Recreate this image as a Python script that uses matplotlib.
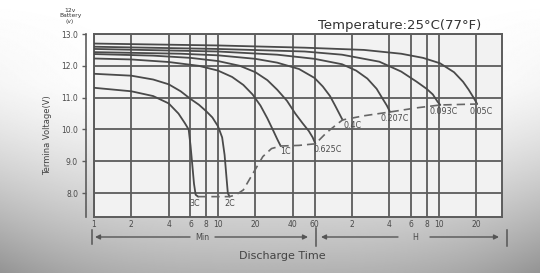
import numpy as np
import matplotlib
matplotlib.use('Agg')
import matplotlib.pyplot as plt
from matplotlib.ticker import NullLocator, FixedLocator, FixedFormatter

# ---------------- data ----------------
tick_minutes = [1, 2, 4, 6, 8, 10, 20, 40, 60, 120, 240, 360, 480, 600, 1200]
tick_labels = ['1', '2', '4', '6', '8', '10', '20', '40', '60', '2', '4', '6', '8', '10', '20']
y_ticks = [8.0, 9.0, 10.0, 11.0, 12.0, 13.0]

rate_labels = ['3C', '2C', '1C', '0.625C', '0.4C', '0.207C', '0.093C', '0.05C']

t_3c = [1, 2, 3, 4, 4.8, 5.4, 5.8, 6.0, 6.2, 6.4, 6.6, 6.9]
v_3c = [11.31, 11.2, 11.05, 10.82, 10.5, 10.2, 10.0, 9.5, 8.9, 8.3, 7.95, 7.89]

t_2c = [1, 2, 3, 4, 5, 6, 7, 8, 9, 10, 10.8, 11.3, 11.7, 12.0, 12.4]
v_2c = [11.75, 11.69, 11.57, 11.42, 11.2, 10.96, 10.78, 10.58, 10.38, 10.1, 9.75, 9.2, 8.5, 8.0, 7.89]

t_1c = [1, 2, 4, 7, 10, 13, 16, 19, 22, 25, 28, 30, 32]
v_1c = [12.23, 12.2, 12.12, 12.0, 11.85, 11.65, 11.4, 11.1, 10.75, 10.35, 9.95, 9.7, 9.48]

t_0625c = [1, 3, 6, 10, 15, 20, 25, 30, 36, 42, 48, 54, 58, 61]
v_0625c = [12.37, 12.32, 12.25, 12.15, 12.0, 11.8, 11.55, 11.25, 10.9, 10.5, 10.2, 9.95, 9.75, 9.55]

t_04c = [1, 5, 10, 20, 30, 45, 60, 70, 80, 88, 95, 101]
v_04c = [12.43, 12.38, 12.33, 12.22, 12.1, 11.9, 11.62, 11.35, 11.05, 10.75, 10.5, 10.3]

t_0207c = [1, 10, 30, 60, 100, 130, 160, 190, 210, 230, 244]
v_0207c = [12.53, 12.45, 12.35, 12.22, 12.05, 11.85, 11.6, 11.28, 11.0, 10.75, 10.55]

t_0093c = [1, 10, 50, 100, 200, 300, 400, 480, 540, 590, 620]
v_0093c = [12.6, 12.53, 12.45, 12.35, 12.13, 11.82, 11.5, 11.28, 11.1, 10.87, 10.77]

t_005c = [1, 10, 50, 150, 300, 450, 617, 800, 946, 1050, 1150, 1230]
v_005c = [12.7, 12.64, 12.57, 12.5, 12.38, 12.25, 12.08, 11.8, 11.5, 11.25, 11.0, 10.8]

# final (cut-off) voltage line
t_end = [6.9, 12.4, 14, 16, 19, 23, 27, 32, 45, 61, 75, 90, 101, 150, 244, 400, 620, 1230]
v_end = [7.89, 7.89, 7.95, 8.1, 8.6, 9.15, 9.4, 9.48, 9.5, 9.55, 9.9, 10.15, 10.3, 10.43, 10.55, 10.68, 10.77, 10.8]

curves = [(t_3c, v_3c), (t_2c, v_2c), (t_1c, v_1c), (t_0625c, v_0625c),
          (t_04c, v_04c), (t_0207c, v_0207c), (t_0093c, v_0093c), (t_005c, v_005c)]

# label anchor points (minutes, volts)
label_pos = [(6.5, 7.66), (12.5, 7.66), (35.3, 9.32), (76, 9.36),
             (122, 10.11), (267, 10.33), (654, 10.58), (1318, 10.58)]

# ---------------- figure ----------------
W, H = 540, 273
fig = plt.figure(figsize=(W / 100, H / 100), dpi=100)

# background gradient
bg = fig.add_axes([0, 0, 1, 1], zorder=0)
yy, xx = np.mgrid[0:1:300j, 0:1:600j]
base = 1.0 - 0.30 * np.clip((yy - 0.30) / 0.70, 0, 1) ** 1.4
edge = 0.12 * (np.abs(xx - 0.5) * 2) ** 3 * yy
grad = np.clip(base - edge, 0, 1)
bg.imshow(grad, extent=(0, W, H, 0), aspect='auto', cmap='gray', vmin=0, vmax=1,
          interpolation='bilinear')
bg.set_xlim(0, W)
bg.set_ylim(H, 0)
bg.axis('off')

grid_c = '#5c5c5c'
line_c = '#4a4a4a'
text_c = '#4a4a4a'

ax = fig.add_axes([94 / W, (H - 217) / H, 408 / W, 183 / H], zorder=2)
ax.set_facecolor('#f2f2f2')
ax.set_xscale('log')
ax.set_xlim(1, 1950)
ax.set_ylim(7.25, 13.0)

ax.xaxis.set_major_locator(FixedLocator(tick_minutes))
ax.xaxis.set_major_formatter(FixedFormatter(tick_labels))
ax.xaxis.set_minor_locator(NullLocator())
ax.set_yticks(y_ticks)
ax.set_yticklabels([f'{v:.1f}' for v in y_ticks])

ax.grid(True, color=grid_c, lw=1.3)
ax.set_axisbelow(True)

for s in ['top', 'right', 'bottom']:
    ax.spines[s].set_color(grid_c)
    ax.spines[s].set_linewidth(1.4)
ax.spines['left'].set_position(('outward', 6))
ax.spines['left'].set_color(grid_c)
ax.spines['left'].set_linewidth(1.2)
ax.axvline(1, color=grid_c, lw=1.4, clip_on=False, zorder=1)

ax.tick_params(axis='x', length=0, pad=2.5, labelsize=5.5, labelcolor=text_c)
ax.tick_params(axis='y', length=3, width=1.0, color=grid_c, pad=2.5,
               labelsize=5.5, labelcolor=text_c)

for t, v in curves:
    ax.plot(t, v, color=line_c, lw=1.3, solid_capstyle='round', zorder=3)

ax.plot(t_end, v_end, color='#666666', lw=1.2, dashes=(5, 3), zorder=3)

for lab, (lx, ly) in zip(rate_labels, label_pos):
    ax.text(lx, ly, lab, fontsize=5.8, color=text_c, ha='center', va='center', zorder=4)

# texts
fig.text(318 / W, 1 - 25.5 / H, 'Temperature:25°C(77°F)', ha='left', va='center',
         fontsize=9.5, color='#333333')
fig.text(70 / W, 1 - 16 / H, '12v\nBattery\n(v)', ha='center', va='center',
         fontsize=4.3, color='#333333', linespacing=1.25)
fig.text(48 / W, 1 - 135 / H, 'Termina Voltage(V)', rotation=90, ha='center',
         va='center', fontsize=6, color='#444444')
fig.text(282 / W, 1 - 256 / H, 'Discharge Time', ha='center', va='center',
         fontsize=8, color='#444444')

# Min / H arrow row (layout decoration in pixel coordinates)
ry = 237
arr = dict(arrowstyle='-|>', mutation_scale=7, lw=1.0, color='#555555',
           shrinkA=0, shrinkB=0)
bg.annotate('', xy=(95, ry), xytext=(190, ry), arrowprops=arr)
bg.annotate('', xy=(308, ry), xytext=(215, ry), arrowprops=arr)
bg.annotate('', xy=(321, ry), xytext=(398, ry), arrowprops=arr)
bg.annotate('', xy=(499, ry), xytext=(430, ry), arrowprops=arr)
for bx, y0, y1 in [(92, 230, 244), (316, 228, 246), (507, 230, 246)]:
    bg.plot([bx, bx], [y0, y1], color='#555555', lw=1.1)
bg.text(202, ry, 'Min', ha='center', va='center', fontsize=5.8, color=text_c)
bg.text(415, ry, 'H', ha='center', va='center', fontsize=5.8, color=text_c)

fig.savefig('out.png', dpi=100)
